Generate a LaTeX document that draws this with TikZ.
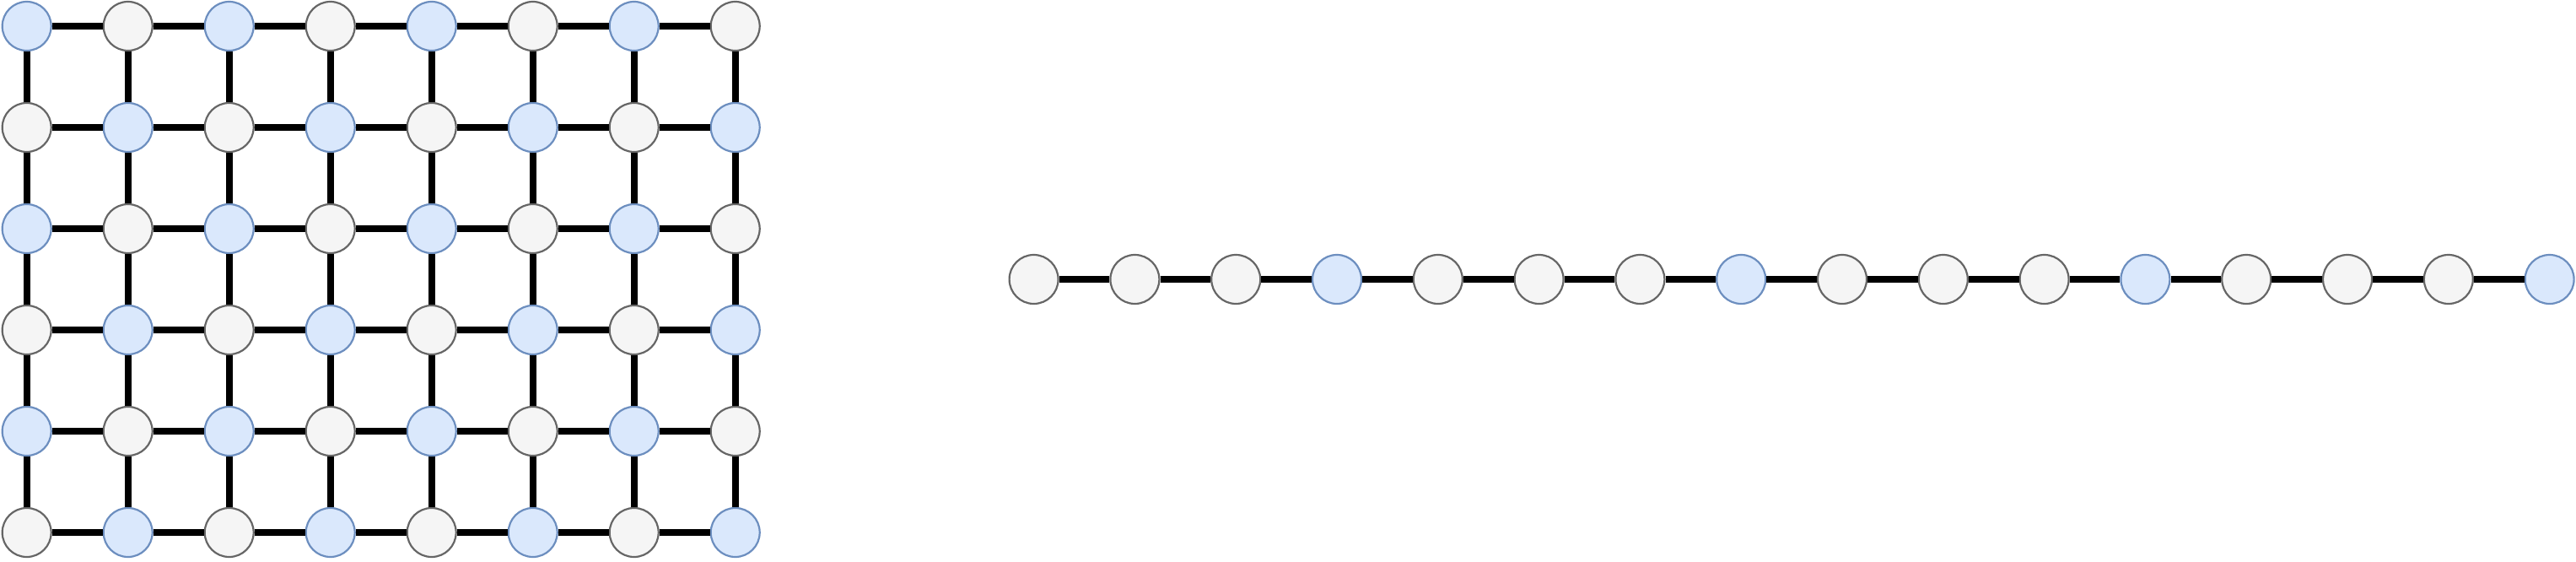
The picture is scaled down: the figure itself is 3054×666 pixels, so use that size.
\documentclass[tikz,border=0pt]{standalone}
\definecolor{bluefill}{HTML}{DAE8FC}
\definecolor{bluedraw}{HTML}{6C8EBF}
\definecolor{grayfill}{HTML}{F5F5F5}
\definecolor{graydraw}{HTML}{666666}
\tikzset{
  qb/.style={circle, minimum size=58pt, inner sep=0pt, line width=2.2pt, fill=bluefill, draw=bluedraw},
  qg/.style={circle, minimum size=58pt, inner sep=0pt, line width=2.2pt, fill=grayfill, draw=graydraw},
  link/.style={line width=8pt, black}
}
\begin{document}
\begin{tikzpicture}[x=1pt,y=-1pt]
\useasboundingbox (0,0) rectangle (3054,666);
% grid nodes
\foreach \r in {0,...,5}{
  \foreach \c in {0,...,7}{
    \pgfmathtruncatemacro{\pty}{mod(\r+\c,2)}
    \ifnum\pty=0
      \node[qb] (g-\r-\c) at ({31.7+120*\c},{31+120*\r}) {};
    \else
      \node[qg] (g-\r-\c) at ({31.7+120*\c},{31+120*\r}) {};
    \fi
  }
}
% chain nodes
\foreach \i in {0,...,15}{
  \pgfmathtruncatemacro{\m}{mod(\i,4)}
  \ifnum\m=3
    \node[qb] (c-\i) at ({1225.6+119.8*\i},331) {};
  \else
    \node[qg] (c-\i) at ({1225.6+119.8*\i},331) {};
  \fi
}
% grid links
\foreach \r in {0,...,5}{
  \foreach \c [evaluate=\c as \n using int(\c+1)] in {0,...,6}{
    \draw[link] (g-\r-\c) -- (g-\r-\n);
  }
}
\foreach \c in {0,...,7}{
  \foreach \r [evaluate=\r as \n using int(\r+1)] in {0,...,4}{
    \draw[link] (g-\r-\c) -- (g-\n-\c);
  }
}
% chain links
\foreach \i [evaluate=\i as \n using int(\i+1)] in {0,...,14}{
  \draw[link] (c-\i) -- (c-\n);
}
\end{tikzpicture}
\end{document}
